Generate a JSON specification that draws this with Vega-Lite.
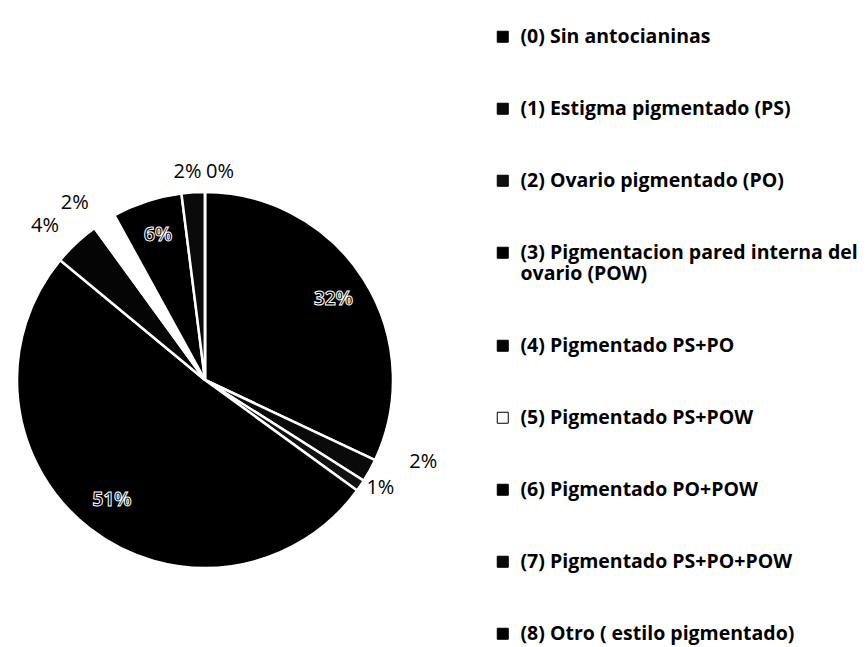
{
  "$schema": "https://vega.github.io/schema/vega-lite/v6.json",
  "width": 410,
  "height": 760,
  "padding": {"left": 0, "top": 0, "right": 457, "bottom": -113},
  "autosize": {"type": "none"},
  "background": "white",
  "config": {"view": {"stroke": null}, "font": "Open Sans"},
  "data": {
    "values": [
      {"cat": "(0) Sin antocianinas", "p": 32, "lab": "32%"},
      {"cat": "(1) Estigma pigmentado (PS)", "p": 2, "lab": "2%"},
      {"cat": "(2)  Ovario pigmentado (PO)", "p": 1, "lab": "1%"},
      {"cat": "(3) Pigmentacion pared interna del ovario (POW)", "p": 51, "lab": "51%"},
      {"cat": "(4) Pigmentado PS+PO", "p": 4, "lab": "4%"},
      {"cat": "(5) Pigmentado PS+POW", "p": 2, "lab": "2%"},
      {"cat": "(6) Pigmentado PO+POW", "p": 6, "lab": "6%"},
      {"cat": "(7) Pigmentado PS+PO+POW", "p": 2, "lab": "2%"},
      {"cat": "(8) Otro ( estilo pigmentado)", "p": 0, "lab": "0%"}
    ]
  },
  "encoding": {
    "theta": {"field": "p", "type": "quantitative", "stack": true},
    "order": {"field": "cat", "type": "ordinal", "sort": "ascending"}
  },
  "layer": [
    {
      "mark": {"type": "arc", "outerRadius": 188, "stroke": "white", "strokeWidth": 2.5},
      "encoding": {
        "color": {
          "field": "cat",
          "type": "nominal",
          "scale": {
            "domain": [
              "(0) Sin antocianinas",
              "(1) Estigma pigmentado (PS)",
              "(2)  Ovario pigmentado (PO)",
              "(3) Pigmentacion pared interna del ovario (POW)",
              "(4) Pigmentado PS+PO",
              "(5) Pigmentado PS+POW",
              "(6) Pigmentado PO+POW",
              "(7) Pigmentado PS+PO+POW",
              "(8) Otro ( estilo pigmentado)"
            ],
            "range": ["#000000", "#0a0a0a", "#111111", "#000000", "#050505", "#ffffff", "#000000", "#0a0a0a", "#000000"]
          },
          "legend": {
            "orient": "none",
            "legendX": 493,
            "legendY": 27,
            "title": null,
            "padding": 0,
            "symbolType": "square",
            "symbolSize": 121,
            "symbolStrokeColor": "black",
            "symbolStrokeWidth": 1,
            "labelFont": "Open Sans",
            "labelFontSize": 19.5,
            "labelFontWeight": "bold",
            "labelColor": "black",
            "labelOffset": 8,
            "labelLimit": 420,
            "rowPadding": 51,
            "labelExpr": "datum.label == '(3) Pigmentacion pared interna del ovario (POW)' ? ['(3) Pigmentacion pared interna del', 'ovario (POW)'] : datum.label"
          }
        }
      }
    },
    {
      "mark": {"type": "text", "radius": 152, "font": "Open Sans", "fontSize": 19, "fontWeight": "bold", "fill": "black", "stroke": "white", "strokeWidth": 1},
      "encoding": {
        "text": {"condition": {"test": "datum.p >= 6", "field": "lab"}, "value": ""}
      }
    },
    {
      "mark": {"type": "text", "radius": 200, "dx": -23, "dy": -8, "font": "Open Sans", "fontSize": 20, "fill": "black"},
      "encoding": {
        "text": {"condition": {"test": "datum.p == 4 || datum.cat == '(5) Pigmentado PS+POW'", "field": "lab"}, "value": ""}
      }
    },
    {
      "mark": {"type": "text", "radius": 200, "dx": 10, "dy": -4, "font": "Open Sans", "fontSize": 20, "fill": "black"},
      "encoding": {
        "text": {"condition": {"test": "datum.p == 1", "field": "lab"}, "value": ""}
      }
    },
    {
      "mark": {"type": "text", "radius": 200, "dx": 43, "dy": -14, "font": "Open Sans", "fontSize": 20, "fill": "black"},
      "encoding": {
        "text": {"condition": {"test": "datum.cat == '(1) Estigma pigmentado (PS)'", "field": "lab"}, "value": ""}
      }
    },
    {
      "mark": {"type": "text", "radius": 200, "dx": -5, "dy": -8, "font": "Open Sans", "fontSize": 20, "fill": "black"},
      "encoding": {
        "text": {"condition": {"test": "datum.cat == '(7) Pigmentado PS+PO+POW'", "field": "lab"}, "value": ""}
      }
    },
    {
      "mark": {"type": "text", "radius": 200, "dx": 15, "dy": -8, "font": "Open Sans", "fontSize": 20, "fill": "black"},
      "encoding": {
        "text": {"condition": {"test": "datum.p == 0", "field": "lab"}, "value": ""}
      }
    }
  ]
}
